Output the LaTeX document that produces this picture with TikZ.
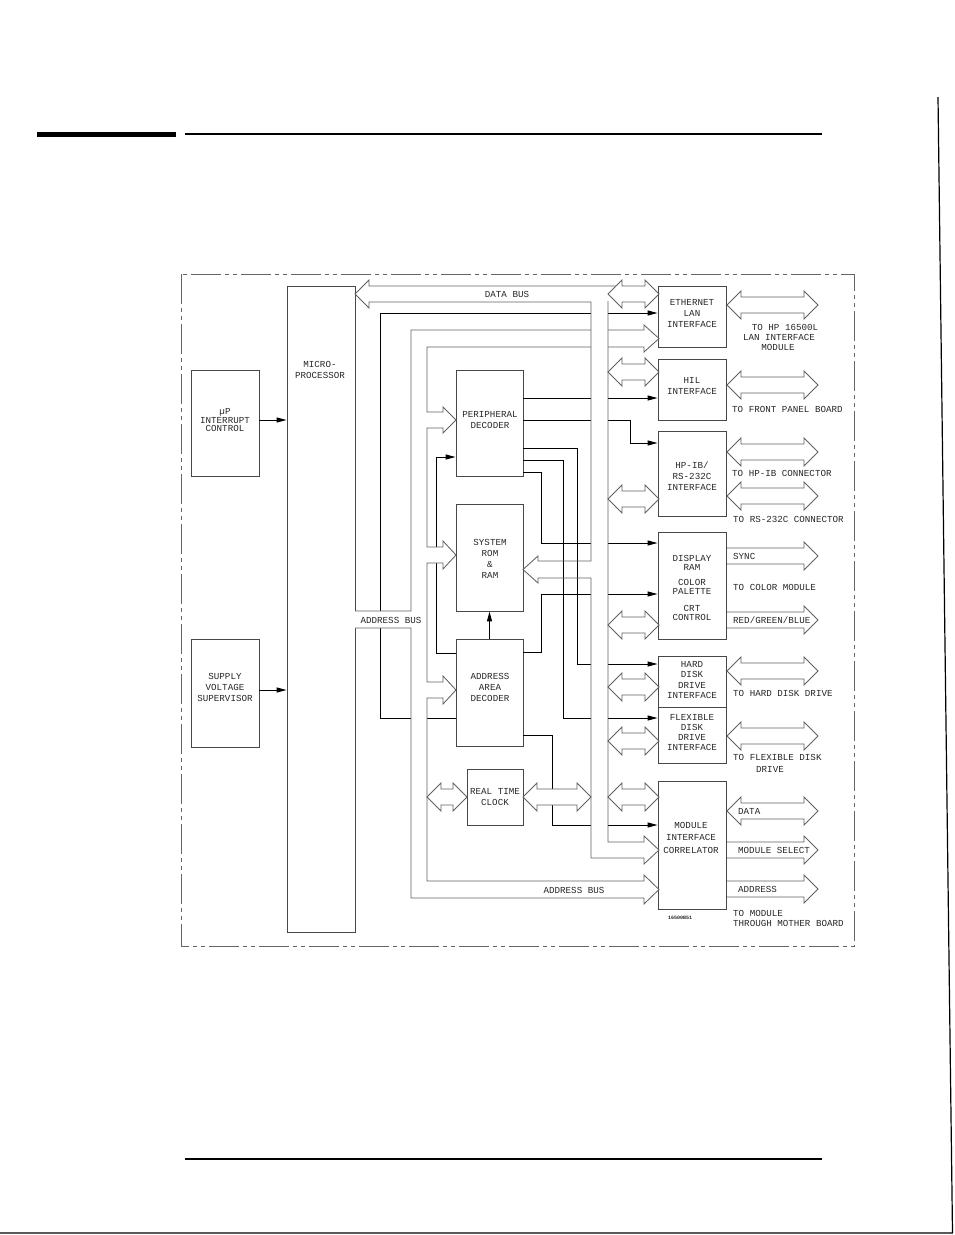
\documentclass[tikz,border=0pt]{standalone}
\usepackage{fontspec}
\setmainfont{Liberation Mono}
\usetikzlibrary{arrows.meta}
\newcommand\lblfont{\fontsize{9.2}{11}\selectfont}
\newcommand\mkbox[5]{\node[box,minimum width={#4-#2},minimum height={#5-#3}] (#1) at ({(#2+#4)/2},{(#3+#5)/2}) {};}
\newcommand\dblarrow[3]{\filldraw[bus,fill=white] (#1,#3) -- ({#1+14},{#3-14}) -- ({#1+14},{#3-8}) -- ({#2-14},{#3-8}) -- ({#2-14},{#3-14}) -- (#2,#3) -- ({#2-14},{#3+14}) -- ({#2-14},{#3+8}) -- ({#1+14},{#3+8}) -- ({#1+14},{#3+14}) -- cycle;}
\newcommand\rarrow[3]{\draw[bus] (#1,{#3-8}) -- ({#2-14},{#3-8}) -- ({#2-14},{#3-14}) -- (#2,#3) -- ({#2-14},{#3+14}) -- ({#2-14},{#3+8}) -- (#1,{#3+8});}
\newcommand\addrpath{(355,611) -- (411,611) -- (411,330) -- (644,330) -- (644,325) -- (659,338.5) -- (644,352) -- (644,347) -- (427,347) -- (427,412) -- (443,412) -- (443,407) -- (456,420) -- (443,433) -- (443,428) -- (427,428) -- (427,547) -- (443,547) -- (443,541) -- (456,555) -- (443,569) -- (443,563) -- (427,563) -- (427,682) -- (443,682) -- (443,676) -- (456,690) -- (443,704) -- (443,698) -- (427,698) -- (427,881) -- (644,881) -- (644,875) -- (659,889.5) -- (644,904) -- (644,898) -- (411,898) -- (411,628) -- (355,628)}
\begin{document}
\begin{tikzpicture}[x=1pt,y=-1pt,
  box/.style={draw=black!72,line width=0.9pt,inner sep=0pt},
  lbl/.style={inner sep=0pt,font=\lblfont,align=center,text=black!85},
  sig/.style={draw=black,line width=1pt},
  sarr/.style={sig,-{Triangle[length=10pt,width=5pt]}},
  bus/.style={draw=black!62,line width=0.85pt,line join=miter},
  border/.style={draw=black!60,line width=0.8pt,dash pattern=on 30pt off 4pt on 4pt off 4pt on 4pt off 4pt},
]
\useasboundingbox (0,0) rectangle (954,1235);

% page rules
\fill[black] (37,131.5) rectangle (176,136.5);
\draw[line width=1.2pt] (185,134) -- (822,134);
\draw[line width=1.2pt] (185,1159) -- (822,1159);
\draw[line width=1.2pt] (938,97) -- (952.5,1233) -- (0,1233);

% outer frame
\draw[border] (181,274) rectangle (854,946);

% boxes
\mkbox{intc}{191}{370}{259}{476}
\mkbox{svs}{191}{639}{259}{747}
\mkbox{mp}{287}{286}{355}{932}
\mkbox{pd}{456}{370}{523}{476}
\mkbox{srr}{456}{504}{523}{611}
\mkbox{aad}{456}{639}{523}{746}
\mkbox{rtc}{467}{769}{523}{825}
\mkbox{eth}{658}{286}{726}{347}
\mkbox{hil}{658}{359}{726}{420}
\mkbox{hpib}{658}{431}{726}{516}
\mkbox{disp}{658}{532}{726}{639}
\mkbox{hdd}{658}{656}{726}{707}
\mkbox{fdd}{658}{707}{726}{763}
\mkbox{mic}{658}{781}{726}{909}

% signal lines
\draw[sarr] (aad.west |- 0,718) -- (380,718) -- (380,313) -- (eth.west |- 0,313);
\draw[sarr] (pd.east |- 0,398) -- (hil.west |- 0,398);
\draw[sarr] (pd.east |- 0,420) -- (630,420) -- (630,443) -- (hpib.west |- 0,443);
\draw[sarr] (pd.east |- 0,448) -- (577,448) -- (577,664) -- (hdd.west |- 0,664);
\draw[sarr] (pd.east |- 0,460) -- (563,460) -- (563,718) -- (fdd.west |- 0,718);
\draw[sarr] (pd.east |- 0,472) -- (541,472) -- (541,543) -- (disp.west |- 0,543);
\draw[sarr] (aad.west |- 0,653) -- (436,653) -- (436,457) -- (pd.west |- 0,457);
\draw[sarr] (aad.east |- 0,652) -- (541,652) -- (541,594) -- (disp.west |- 0,594);
\draw[sarr] (aad.east |- 0,735) -- (552,735) -- (552,825) -- (mic.west |- 0,825);
\draw[sarr] (aad.north) -- (srr.south);
\draw[sarr] (intc.east |- 0,420) -- (mp.west |- 0,420);
\draw[sarr] (svs.east |- 0,690) -- (mp.west |- 0,690);

% address bus
\fill[white] \addrpath -- cycle;
\draw[bus] \addrpath;

% data bus
\fill[white] (591,302) rectangle (608,858);
\draw[bus] (623,286) -- (369,286) -- (369,280) -- (355,294) -- (369,308) -- (369,302) -- (591,302) -- (591,561);
\draw[bus] (591,578) -- (591,858) -- (644,858) -- (644,864) -- (659,850) -- (644,836) -- (644,842) -- (608,842) -- (608,301);
\draw[bus] (591,561) -- (538,561) -- (538,556) -- (523,569.5) -- (538,583) -- (538,578) -- (591,578);

% branches from data bus
\dblarrow{608}{659}{294}
\dblarrow{608}{659}{372}
\dblarrow{608}{659}{499}
\dblarrow{608}{659}{625}
\dblarrow{608}{659}{687}
\dblarrow{608}{659}{741}
\dblarrow{608}{659}{797}
\dblarrow{427}{467}{797}
\dblarrow{523}{591}{797}

% outputs
\dblarrow{727}{818}{305}
\dblarrow{727}{818}{385}
\dblarrow{727}{818}{452}
\dblarrow{727}{818}{496}
\rarrow{727}{818}{556}
\rarrow{727}{818}{620}
\dblarrow{727}{818}{671}
\dblarrow{727}{818}{736}
\dblarrow{727}{818}{811}
\rarrow{727}{818}{850}
\rarrow{727}{818}{889}

% box texts
\node[lbl,font=\fontsize{9.2}{8.5}\selectfont] (intcT) at (225,420.5) {µP\\INTERRUPT\\CONTROL};
\node[lbl] (svsT) at (225,687) {SUPPLY\\VOLTAGE\\SUPERVISOR};
\node[lbl] (mpT) at (320,369.5) {MICRO-\\PROCESSOR};
\node[lbl] (pdT) at (490,420.5) {PERIPHERAL\\DECODER};
\node[lbl] (srrT) at (490,558.5) {SYSTEM\\ROM\\\&\\RAM};
\node[lbl] (aadT) at (490,687) {ADDRESS\\AREA\\DECODER};
\node[lbl] (rtcT) at (495,797) {REAL TIME\\CLOCK};
\node[lbl] (ethT) at (692,313.5) {ETHERNET\\LAN\\INTERFACE};
\node[lbl] (hilT) at (692,386.5) {HIL\\INTERFACE};
\node[lbl] (hpibT) at (692,476.5) {HP-IB/\\RS-232C\\INTERFACE};
\node[lbl,font=\fontsize{9.2}{9}\selectfont] (dispA) at (692,562.5) {DISPLAY\\RAM};
\node[lbl,font=\fontsize{9.2}{9}\selectfont] (dispB) at (692,587) {COLOR\\PALETTE};
\node[lbl,font=\fontsize{9.2}{9}\selectfont] (dispC) at (692,612.5) {CRT\\CONTROL};
\node[lbl,font=\fontsize{9.2}{10.3}\selectfont] (hddT) at (692,680) {HARD\\DISK\\DRIVE\\INTERFACE};
\node[lbl,font=\fontsize{9.2}{10}\selectfont] (fddT) at (692,733) {FLEXIBLE\\DISK\\DRIVE\\INTERFACE};
\node[lbl,font=\fontsize{9.2}{12.5}\selectfont] (micT) at (691,837.5) {MODULE\\INTERFACE\\CORRELATOR};

% bus labels
\node[lbl] (dbT) at (507,294) {DATA BUS};
\node[lbl] (abT1) at (391,620) {ADDRESS BUS};
\node[lbl] (abT2) at (574,890) {ADDRESS BUS};

% output labels
\node[lbl] (o1) at (785,327) {TO HP 16500L};
\node[lbl] (o2) at (779,337) {LAN INTERFACE};
\node[lbl] (o3) at (778,347) {MODULE};
\node[lbl,anchor=west] (o4) at (732,409) {TO FRONT PANEL BOARD};
\node[lbl,anchor=west] (o5) at (732,473) {TO HP-IB CONNECTOR};
\node[lbl,anchor=west] (o6) at (733,519) {TO RS-232C CONNECTOR};
\node[lbl,anchor=west] (o7) at (733,556) {SYNC};
\node[lbl,anchor=west] (o8) at (733,587) {TO COLOR MODULE};
\node[lbl,anchor=west] (o9) at (733,620) {RED/GREEN/BLUE};
\node[lbl,anchor=west] (o10) at (733,693) {TO HARD DISK DRIVE};
\node[lbl,anchor=west] (o11) at (733,757) {TO FLEXIBLE DISK};
\node[lbl] (o12) at (770,769) {DRIVE};
\node[lbl,anchor=west] (o13) at (738,811) {DATA};
\node[lbl,anchor=west] (o14) at (738,850) {MODULE SELECT};
\node[lbl,anchor=west] (o15) at (738,889) {ADDRESS};
\node[lbl,anchor=west] (o16) at (733,913) {TO MODULE};
\node[lbl,anchor=west] (o17) at (733,923) {THROUGH MOTHER BOARD};
\node[lbl,font=\fontsize{5}{6}\selectfont\bfseries] (code) at (680,918) {16500B51};
\end{tikzpicture}
\end{document}
